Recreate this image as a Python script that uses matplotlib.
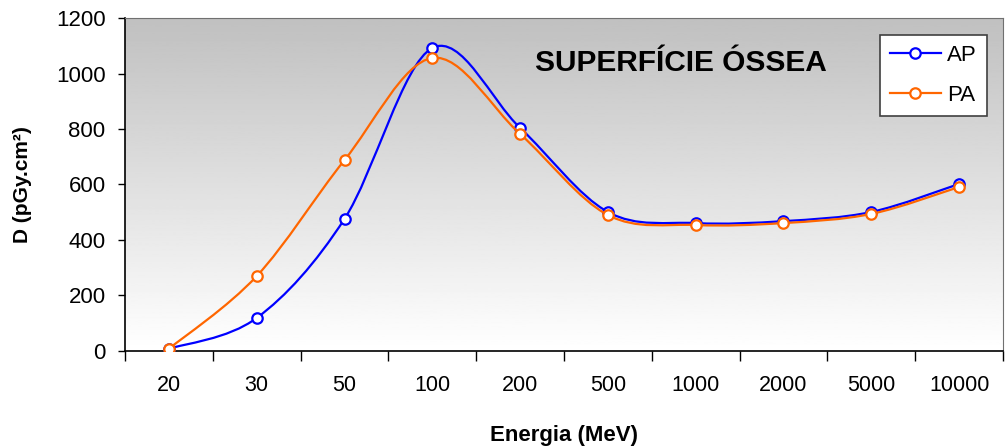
import numpy as np
import matplotlib
matplotlib.use('Agg')
from matplotlib import pyplot as plt
from matplotlib.path import Path
from matplotlib.patches import PathPatch
from matplotlib.lines import Line2D

energias = ['20', '30', '50', '100', '200', '500', '1000', '2000', '5000', '10000']
ap = [8, 119, 476, 1092, 804, 501, 461, 468, 501, 602]
pa = [8, 270, 688, 1056, 782, 490, 454, 461, 494, 591]
titulo = 'SUPERFÍCIE ÓSSEA'

plt.rcParams['font.family'] = ['Liberation Sans', 'DejaVu Sans']
narrow = ['Liberation Sans Narrow', 'Liberation Sans']

fig = plt.figure(figsize=(10.05, 4.47), dpi=100)
ax = fig.add_axes([0.1244, 0.2148, 0.8736, 0.7449])


def smooth_path(xs, ys):
    # excel style smoothed line (catmull-rom bezier)
    pts = np.column_stack([xs, ys]).astype(float)
    n = len(pts)
    verts = [pts[0]]
    codes = [Path.MOVETO]
    for i in range(n - 1):
        p0 = pts[max(i - 1, 0)]
        p1 = pts[i]
        p2 = pts[i + 1]
        p3 = pts[min(i + 2, n - 1)]
        verts += [p1 + (p2 - p0) / 6, p2 - (p3 - p1) / 6, p2]
        codes += [Path.CURVE4] * 3
    return Path(verts, codes)


x = np.arange(len(energias))

# gradient background, gray on top -> white at bottom
grad = np.linspace(0.753, 1.0, 256).reshape(-1, 1)
ax.imshow(grad, cmap='gray', vmin=0, vmax=1, aspect='auto', origin='upper',
          extent=[0, 1, 0, 1], transform=ax.transAxes, zorder=0)

for serie, cor, z in [(ap, '#0000FF', 3), (pa, '#FF6600', 4)]:
    ax.add_patch(PathPatch(smooth_path(x, serie), fill=False, edgecolor=cor,
                           lw=1.6, zorder=z))
    ax.plot(x, serie, 'o', ls='none', ms=7.5, mfc='white', mec=cor, mew=1.6,
            zorder=z + 0.5)

ax.set_xlim(-0.5, len(energias) - 0.5)
ax.set_ylim(0, 1200)
ax.set_yticks(range(0, 1201, 200))
ax.set_xticks(x)
ax.set_xticklabels(energias, family=narrow, fontsize=15.5)
ax.set_xticks(np.arange(-0.5, len(energias)), minor=True)
ax.tick_params(axis='x', which='major', length=0, pad=17)
ax.tick_params(axis='x', which='minor', length=7, width=1, color='black')
ax.tick_params(axis='y', length=5, width=1, pad=9, labelsize=16)

for s in ['top', 'right']:
    ax.spines[s].set_color('#707070')
for s in ['left', 'bottom']:
    ax.spines[s].set_color('black')
    ax.spines[s].set_linewidth(1.2)

ax.set_xlabel('Energia (MeV)', family=narrow, fontsize=16, fontweight='bold',
              labelpad=21)
ax.set_ylabel('D (pGy.cm²)', fontsize=15, fontweight='bold', labelpad=17)

ax.text(0.633, 0.865, titulo, transform=ax.transAxes, fontsize=21.5,
        fontweight='bold', ha='center', va='center', zorder=6)

handles = [Line2D([], [], color='#0000FF', lw=1.6, marker='o', ms=7.5,
                  mfc='white', mec='#0000FF', mew=1.6),
           Line2D([], [], color='#FF6600', lw=1.6, marker='o', ms=7.5,
                  mfc='white', mec='#FF6600', mew=1.6)]
leg = ax.legend(handles, ['AP', 'PA'], loc='upper right',
                bbox_to_anchor=(0.982, 0.949), borderaxespad=0, fontsize=16,
                frameon=True, fancybox=False, framealpha=1, edgecolor='#404040',
                handlelength=2.3, borderpad=0.45, labelspacing=0.85,
                handletextpad=0.3)
leg.get_frame().set_linewidth(1.2)
leg.set_zorder(7)

fig.savefig('out.png', dpi=100)
